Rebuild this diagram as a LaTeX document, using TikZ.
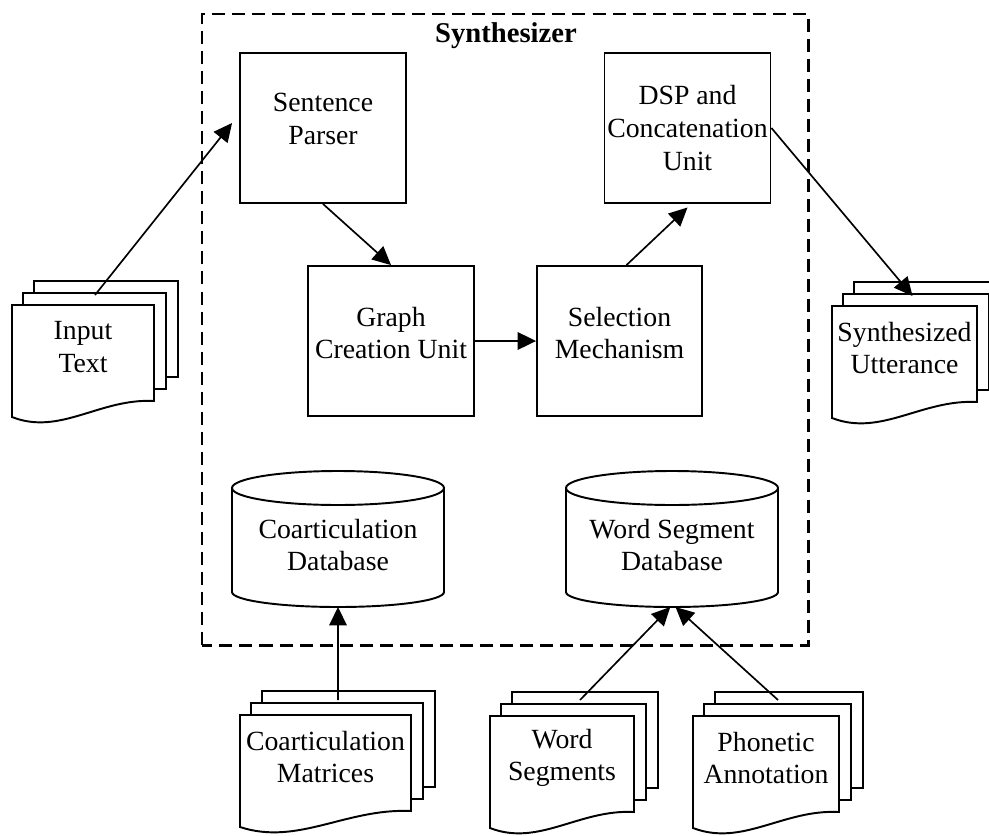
\documentclass[tikz,border=0pt]{standalone}
\usepackage{fontspec}
\setmainfont{Liberation Serif}
\usetikzlibrary{arrows.meta}

% stacked documents: name, left, top, width, text
\newcommand\docstack[5]{%
  \pgfmathsetmacro\dL{#2}\pgfmathsetmacro\dT{#3}\pgfmathsetmacro\dR{#2+#4}%
  \pgfmathsetmacro\dX{#2+#4/2}%
  \draw[sheet] (\dL+22,\dT-24) rectangle (\dR+24,\dT+72);
  \draw[sheet] (\dL+11,\dT-12) rectangle (\dR+12,\dT+84);
  \draw[sheet] (\dL,\dT) -- (\dR,\dT) -- (\dR,\dT+96)
     .. controls ({\dL+0.62*#4},\dT+93) and ({\dL+0.338*#4},\dT+131) .. (\dL,\dT+112) -- cycle;
  \node[lbl] (#1) at (\dX,\dT+42) {#5};
  \coordinate (#1-top) at (\dX,\dT);
}

% database cylinder: name, left, width, text
\newcommand\dbcyl[4]{%
  \pgfmathsetmacro\cL{#2}\pgfmathsetmacro\cR{#2+#3}%
  \pgfmathsetmacro\cX{#2+#3/2}\pgfmathsetmacro\cRx{#3/2}%
  \draw[sheet] (\cL,488) -- (\cL,592) arc[start angle=180,end angle=0,x radius=\cRx,y radius=15] -- (\cR,488);
  \draw[sheet] (\cX,488) ellipse[x radius=\cRx,y radius=17];
  \node[lbl] (#1) at (\cX,545) {#4};
  \coordinate (#1-bot) at (\cX,607);
}

\tikzset{
  sheet/.style={draw=black,line width=1.1pt,fill=white,line join=miter},
  lbl/.style={align=center,inner sep=0pt,font=\fontsize{15.8pt}{18.5pt}\selectfont},
  unitbox/.style={draw=black,line width=1.1pt,minimum width=3.32cm,minimum height=3cm,inner sep=0pt},
  arr/.style={line width=0.95pt,-{Triangle[length=10.5pt,width=10pt]}},
  frame/.style={line width=1.7pt,dash pattern=on 7.4pt off 4pt}
}

\begin{document}
\begin{tikzpicture}[x=0.02cm,y=-0.02cm]
  \clip (0,0) rectangle (989,835);
  \fill[white] (0,0) rectangle (989,835);

  % synthesizer boundary
  \draw[frame] (202,645) -- (202,14) -- (808,14) -- (808,645) -- cycle;
  \node[font=\bfseries\fontsize{16.3pt}{19pt}\selectfont,anchor=base,inner sep=0pt] (title) at (506,42) {Synthesizer};

  % processing units
  \node[unitbox] (sp)  at (323,128) {};
  \node[lbl] (sp-t) at (323,119) {Sentence\\Parser};
  \node[unitbox] (dsp) at (687.5,128) {};
  \node[lbl] (dsp-t) at (687.5,128) {DSP and\\Concatenation\\Unit};
  \node[unitbox] (gcu) at (391,341) {};
  \node[lbl] (gcu-t) at (391,333) {Graph\\Creation Unit};
  \node[unitbox,minimum width=3.3cm] (sel) at (619.5,341) {};
  \node[lbl] (sel-t) at (619.5,333) {Selection\\Mechanism};

  % databases
  \dbcyl{codb}{232}{212}{Coarticulation\\Database}
  \dbcyl{wsdb}{566}{212}{Word Segment\\Database}

  % documents
  \docstack{intext}{12}{305}{142}{Input\\Text}
  \docstack{synth}{832}{306}{145}{Synthesized\\Utterance}
  \docstack{comat}{240}{715}{171}{Coarticulation\\Matrices}
  \docstack{wseg}{490}{716}{144}{Word\\Segments}
  \docstack{phon}{693}{716}{146}{Phonetic\\Annotation}

  % data flow
  \draw[arr] ([shift={(12,-10)}]intext-top) -- ([shift={(-7,-5)}]sp.west);
  \draw[arr] (sp.south) -- (gcu.north);
  \draw[arr] (gcu.east) -- (sel.west);
  \draw[arr] ([xshift=0.14cm]sel.north) -- ([yshift=-2]dsp.south);
  \draw[arr] (dsp.east) -- ([shift={(8,-10)}]synth-top);
  \draw[arr] ([shift={(12.5,-15)}]comat-top) -- (codb-bot);
  \draw[arr] ([shift={(18,-16)}]wseg-top) -- ([xshift=-1]wsdb-bot);
  \draw[arr] ([shift={(12,-16)}]phon-top) -- ([xshift=2]wsdb-bot);
\end{tikzpicture}
\end{document}
